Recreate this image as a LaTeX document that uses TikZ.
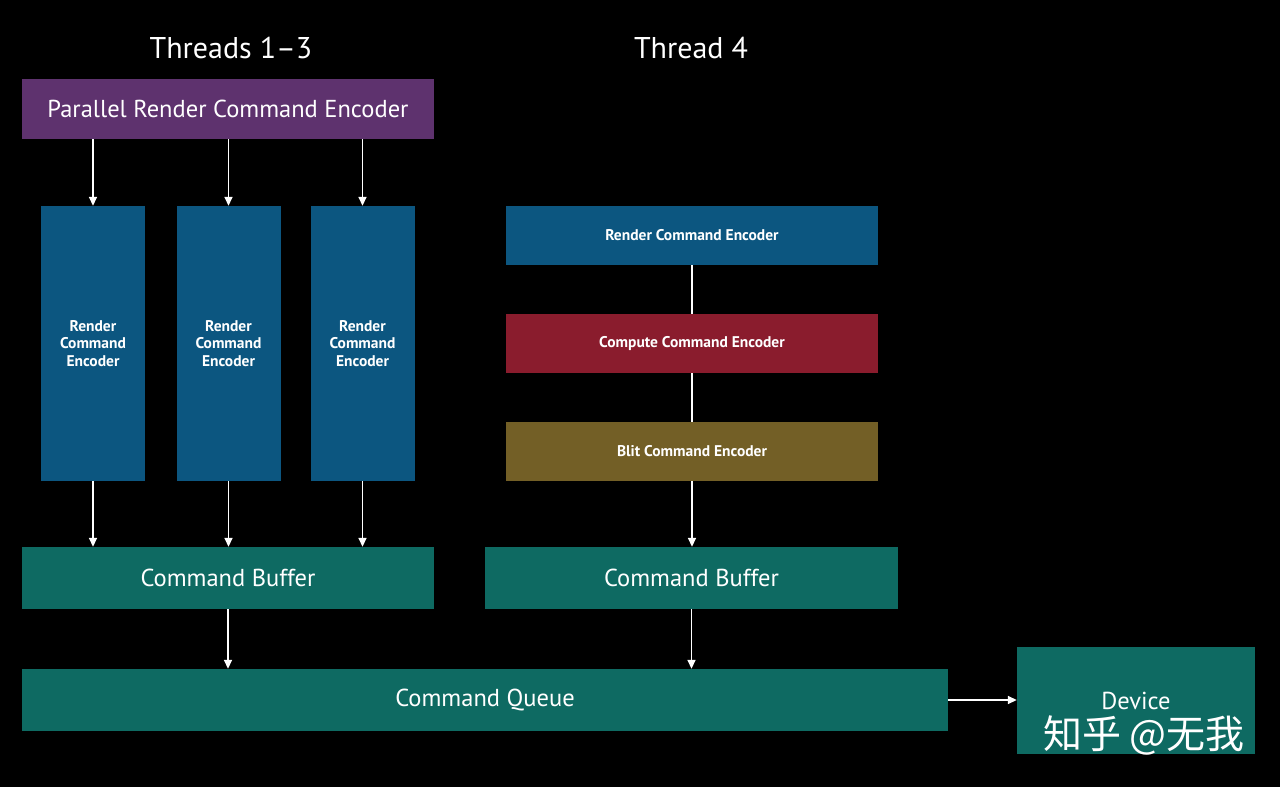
\documentclass[tikz,border=0pt]{standalone}
\usepackage{fontspec}
\setmainfont{PT Sans}
\newfontfamily\cjkfont{Noto Sans CJK SC}
\usetikzlibrary{arrows.meta, positioning}

\definecolor{encpurple}{RGB}{94,50,110}
\definecolor{encblue}{RGB}{12,86,128}
\definecolor{encred}{RGB}{138,28,45}
\definecolor{encolive}{RGB}{115,95,38}
\definecolor{bufteal}{RGB}{14,106,98}

\begin{document}
\begin{tikzpicture}[
x=1pt, y=-1pt,
box/.style={rectangle, inner sep=0pt, align=center, text=white},
widebox/.style={box, minimum height=62pt, font=\fontsize{24.5}{28}\selectfont},
smallbox/.style={box, minimum width=372pt, minimum height=59pt, fill=encblue, font=\bfseries\fontsize{15.5}{17}\selectfont},
tallbox/.style={box, minimum width=104pt, minimum height=275pt, fill=encblue, font=\bfseries\fontsize{15.5}{17.5}\selectfont},
title/.style={text=white, font=\fontsize{30}{34}\selectfont},
arrow/.style={-{Triangle[length=9pt, width=8pt]}, white, line width=1.6pt},
link/.style={white, line width=1.6pt}
]

\fill[black] (0,0) rectangle (1280,787);
\useasboundingbox (0,0) rectangle (1280,787);

% ---------- TITLES ----------

\node[title] (titleA) at (231,48) {Threads 1--3};
\node[title] (titleB) at (691,48) {Thread 4};

% ---------- THREADS 1-3 ----------

\node[widebox, fill=encpurple, minimum width=412pt, minimum height=60pt] (parallel) at (228,109)
{Parallel Render Command Encoder};

\node[tallbox] (renderA) at (93,343.5)
{Render\\ Command\\ Encoder};

\node[tallbox] (renderB) at (228.5,343.5)
{Render\\ Command\\ Encoder};

\node[tallbox] (renderC) at (362.5,343.5)
{Render\\ Command\\ Encoder};

\node[widebox, fill=bufteal, minimum width=412pt] (bufferA) at (228,578)
{Command Buffer};

% ---------- THREAD 4 ----------

\node[smallbox] (render) at (692,235.5)
{Render Command Encoder};

\node[smallbox, fill=encred] (compute) at (692,343.5)
{Compute Command Encoder};

\node[smallbox, fill=encolive] (blit) at (692,451.5)
{Blit Command Encoder};

\node[widebox, fill=bufteal, minimum width=413pt] (bufferB) at (691.5,578)
{Command Buffer};

% ---------- QUEUE AND DEVICE ----------

\node[widebox, fill=bufteal, minimum width=926pt] (queue) at (485,700)
{Command Queue};

\node[widebox, fill=bufteal, minimum width=238pt, minimum height=107pt] (device) at (1136,700.5)
{Device};

\node[text=white, font=\cjkfont\fontsize{39}{42}\selectfont] (mark) at (1144,735)
{知乎 @无我};

% ---------- ARROWS ----------

\draw[arrow] (renderA.north |- parallel.south) -- (renderA.north);
\draw[arrow] (renderB.north |- parallel.south) -- (renderB.north);
\draw[arrow] (renderC.north |- parallel.south) -- (renderC.north);

\draw[arrow] (renderA.south) -- (renderA.south |- bufferA.north);
\draw[arrow] (renderB.south) -- (renderB.south |- bufferA.north);
\draw[arrow] (renderC.south) -- (renderC.south |- bufferA.north);

\draw[link] (render.south) -- (compute.north);
\draw[link] (compute.south) -- (blit.north);
\draw[arrow] (blit.south) -- (blit.south |- bufferB.north);

\draw[arrow] (bufferA.south) -- (bufferA.south |- queue.north);
\draw[arrow] (bufferB.south) -- (bufferB.south |- queue.north);

\draw[arrow] (queue.east) -- (queue.east -| device.west);

\end{tikzpicture}
\end{document}
